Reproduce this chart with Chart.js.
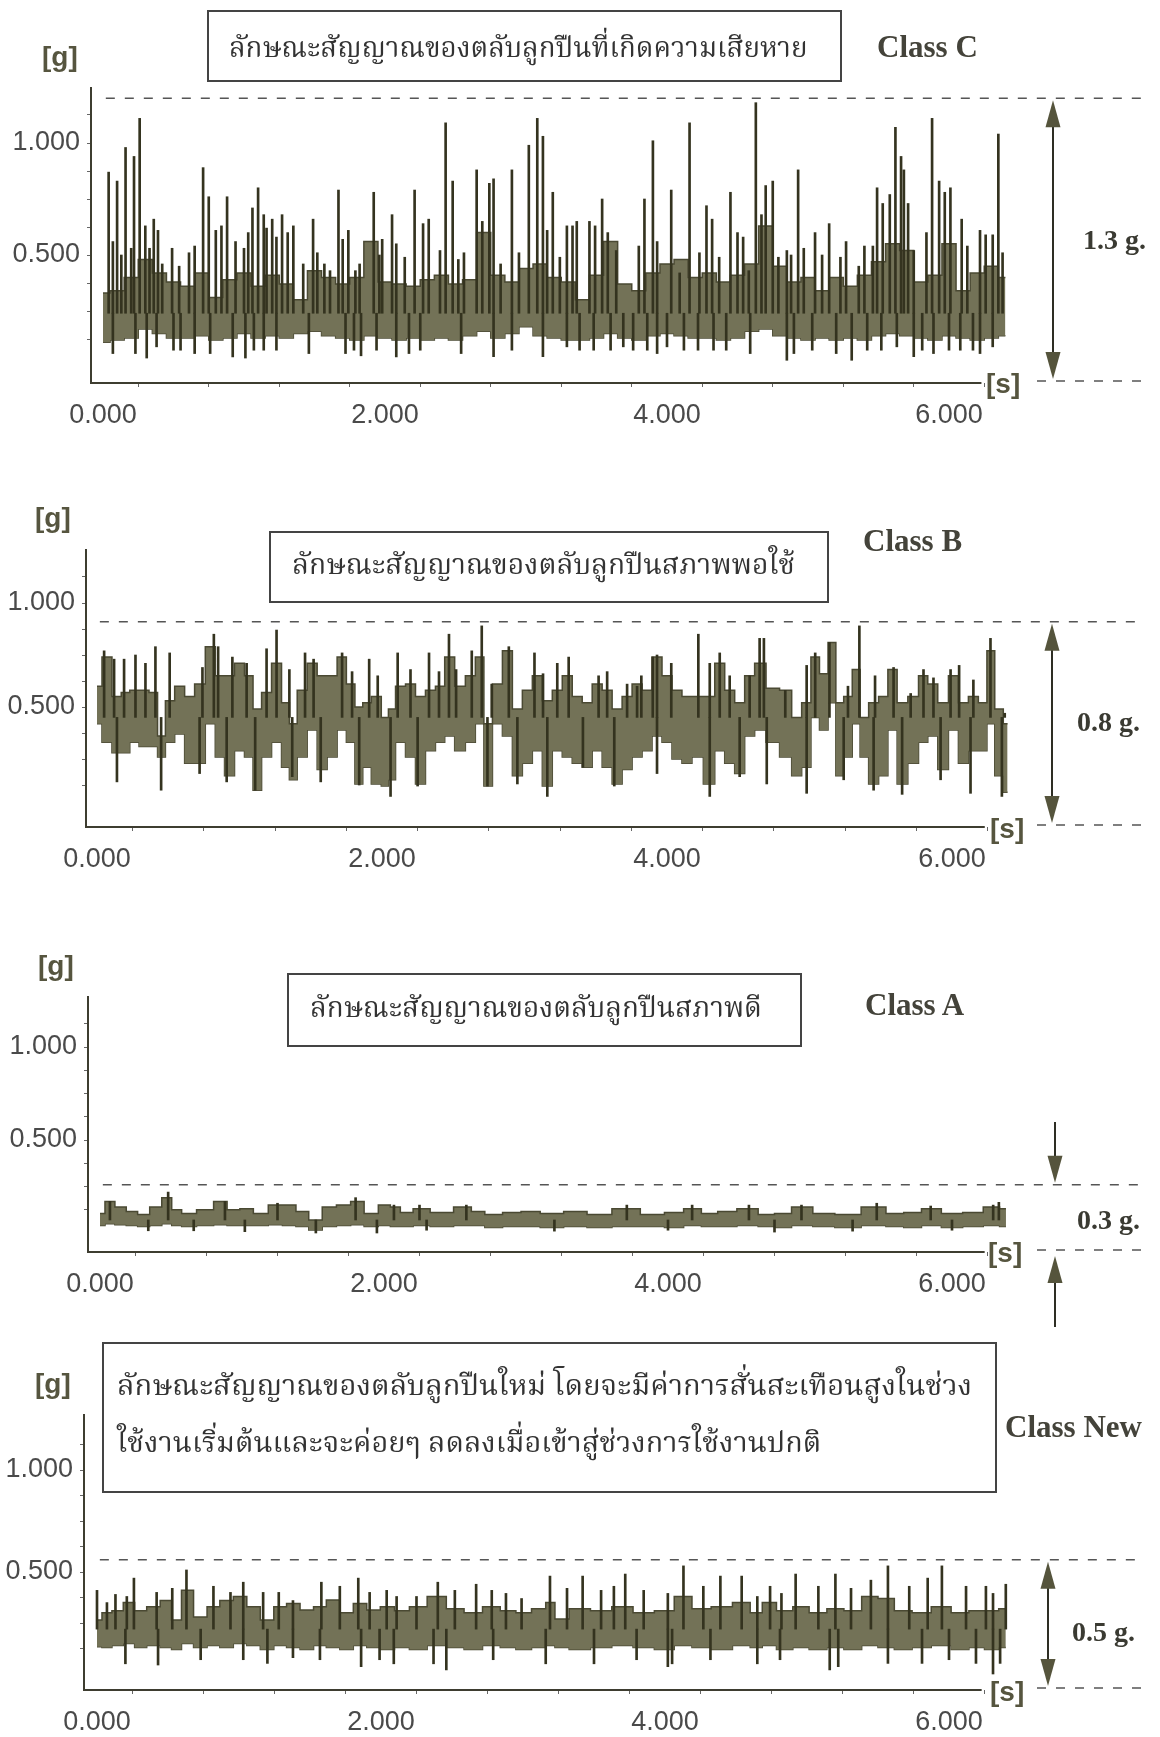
<!DOCTYPE html>
<html>
<head>
<meta charset="utf-8">
<script src="https://cdn.jsdelivr.net/npm/chart.js@4.4.0/dist/chart.umd.min.js"></script>
<style>
  body { margin: 0; background: #fff; }
  #page { position: relative; width: 1160px; height: 1737px; overflow: hidden; background: #fff; }
  canvas { position: absolute; left: 0; }
  .t { position: absolute; white-space: nowrap; line-height: 1; transform: translateY(-50%); }
  .g { font: bold 28px "Liberation Sans", sans-serif; color: #56553f; }
  .cls { font: bold 31px "Liberation Serif", serif; color: #44433a; }
  .amp { font: bold 28px "Liberation Serif", serif; color: #3a3a32; }
  .cap { font-family: "Norasi", "Kinnari", "Laksaman", "Noto Serif Thai", "Noto Sans Thai", "Loma", "Garuda", serif; font-size: 30px; color: #333; line-height: 1.3; }
  .box { position: absolute; box-sizing: border-box; border: 2px solid #444; }
</style>
</head>
<body>
<div id="page">
  <canvas id="c1" width="1160" height="440" style="top:0px"></canvas>
  <canvas id="c2" width="1160" height="450" style="top:440px"></canvas>
  <canvas id="c3" width="1160" height="440" style="top:890px"></canvas>
  <canvas id="c4" width="1160" height="407" style="top:1330px"></canvas>

  <!-- Class C -->
  <div class="t g" style="left:42px;top:57px">[g]</div>
  <div class="box" style="left:207px;top:10px;width:635px;height:72px"></div>
  <div class="t cap fit" data-w="579" style="left:229px;top:50px">ลักษณะสัญญาณของตลับลูกปืนที่เกิดความเสียหาย</div>
  <div class="t cls" style="left:877px;top:47px">Class C</div>
  <div class="t g" style="left:986px;top:384px">[s]</div>
  <div class="t amp" style="left:1083px;top:240px">1.3 g.</div>

  <!-- Class B -->
  <div class="t g" style="left:35px;top:518px">[g]</div>
  <div class="box" style="left:269px;top:531px;width:560px;height:72px"></div>
  <div class="t cap fit" data-w="503" style="left:292px;top:567px">ลักษณะสัญญาณของตลับลูกปืนสภาพพอใช้</div>
  <div class="t cls" style="left:863px;top:541px">Class B</div>
  <div class="t g" style="left:990px;top:829px">[s]</div>
  <div class="t amp" style="left:1077px;top:722px">0.8 g.</div>

  <!-- Class A -->
  <div class="t g" style="left:38px;top:966px">[g]</div>
  <div class="box" style="left:287px;top:973px;width:515px;height:74px"></div>
  <div class="t cap fit" data-w="452" style="left:310px;top:1010px">ลักษณะสัญญาณของตลับลูกปืนสภาพดี</div>
  <div class="t cls" style="left:865px;top:1005px">Class A</div>
  <div class="t g" style="left:988px;top:1253px">[s]</div>
  <div class="t amp" style="left:1077px;top:1220px">0.3 g.</div>

  <!-- Class New -->
  <div class="t g" style="left:35px;top:1384px">[g]</div>
  <div class="box" style="left:102px;top:1342px;width:895px;height:151px"></div>
  <div class="t cap fit" data-w="856" style="left:117px;top:1388px">ลักษณะสัญญาณของตลับลูกปืนใหม่ โดยจะมีค่าการสั่นสะเทือนสูงในช่วง</div>
  <div class="t cap fit" data-w="705" style="left:117px;top:1445px">ใช้งานเริ่มต้นและจะค่อยๆ ลดลงเมื่อเข้าสู่ช่วงการใช้งานปกติ</div>
  <div class="t cls" style="left:1005px;top:1427px">Class New</div>
  <div class="t g" style="left:990px;top:1692px">[s]</div>
  <div class="t amp" style="left:1072px;top:1632px">0.5 g.</div>
</div>

<script>
// ---- axis ticks ----
const xTicks = [0, 0.5, 1, 1.5, 2, 2.5, 3, 3.5, 4, 4.5, 5, 5.5, 6];
const xLabels = [0, 2, 4, 6];
const yTicks = [0.125, 0.25, 0.375, 0.5, 0.625, 0.75, 0.875, 1, 1.125];
const yLabels = [0.5, 1];

// top of the marked range (dashed line), one per panel
const rangeTop = [1.20, 0.91, 0.26, 0.56];

// ---- Class C : damaged bearing ----
const classC_t = [0,0.1,0.2,0.3,0.4,0.5,0.6,0.7,0.8,0.9, 1.0,1.1,1.2,1.3,1.4,1.5,1.6,1.7,1.8,1.9,
  2.0,2.1,2.2,2.3,2.4,2.5,2.6,2.7,2.8,2.9, 3.0,3.1,3.2,3.3,3.4,3.5,3.6,3.7,3.8,3.9,
  4.0,4.1,4.2,4.3,4.4,4.5,4.6,4.7,4.8,4.9, 5.0,5.1,5.2,5.3,5.4,5.5,5.6,5.7,5.8,5.9, 6.0,6.1,6.2,6.3,6.4];
const classC_hi = [0.33,0.34,0.40,0.48,0.42,0.38,0.36,0.42,0.31,0.39, 0.42,0.36,0.41,0.37,0.30,0.43,0.40,0.37,0.40,0.56,
  0.38,0.37,0.36,0.39,0.41,0.37,0.39,0.60,0.41,0.38, 0.44,0.46,0.40,0.38,0.30,0.41,0.56,0.37,0.34,0.42,
  0.46,0.48,0.40,0.42,0.38,0.41,0.46,0.63,0.45,0.38, 0.40,0.34,0.40,0.36,0.41,0.47,0.55,0.52,0.38,0.41, 0.55,0.34,0.42,0.45,0.40];
const classC_lo = [0.11,0.12,0.13,0.17,0.15,0.13,0.13,0.14,0.12,0.13, 0.15,0.13,0.14,0.13,0.15,0.16,0.14,0.13,0.12,0.14,
  0.13,0.12,0.13,0.12,0.13,0.12,0.14,0.16,0.13,0.15, 0.18,0.14,0.13,0.12,0.12,0.13,0.15,0.13,0.12,0.14,
  0.15,0.14,0.13,0.13,0.12,0.13,0.16,0.17,0.14,0.13, 0.12,0.13,0.12,0.13,0.12,0.14,0.15,0.14,0.13,0.12, 0.14,0.13,0.12,0.13,0.14];
const classC_peakT = [0.04,0.07,0.10,0.13,0.16,0.20,0.22,0.26,0.30,0.33,0.36,0.39,0.42,0.49,0.54,0.61,0.65,0.71,0.75,0.80,
  0.84,0.88,0.94,1.00,1.03,1.06,1.10,1.14,1.16,1.20,1.23,1.27,1.31,1.35,1.42,1.49,1.52,1.57,1.61,1.67,
  1.70,1.74,1.79,1.82,1.92,1.96,1.98,2.05,2.08,2.14,2.21,2.27,2.31,2.39,2.43,2.48,2.52,2.56,2.65,2.69,
  2.74,2.77,2.82,2.90,2.95,3.02,3.08,3.12,3.15,3.19,3.24,3.29,3.33,3.36,3.45,3.49,3.54,3.58,3.64,3.80,
  3.84,3.90,3.93,4.03,4.09,4.16,4.23,4.28,4.32,4.37,4.45,4.50,4.54,4.58,4.63,4.67,4.70,4.75,4.79,4.85,
  4.88,4.93,4.97,5.05,5.10,5.15,5.23,5.27,5.36,5.40,5.46,5.49,5.53,5.58,5.62,5.66,5.68,5.71,5.75,5.84,
  5.88,5.93,5.97,6.01,6.09,6.13,6.22,6.26,6.31,6.35,6.38];
const classC_peakV = [0.87,0.56,0.83,0.50,0.98,0.53,0.94,1.11,0.63,0.53,0.66,0.61,0.46,0.53,0.45,0.51,0.54,0.89,0.76,0.61,
  0.63,0.76,0.56,0.53,0.60,0.71,0.80,0.68,0.62,0.66,0.58,0.68,0.60,0.63,0.46,0.66,0.51,0.46,0.43,0.79,
  0.57,0.61,0.43,0.46,0.78,0.50,0.57,0.68,0.55,0.49,0.79,0.64,0.66,0.52,1.09,0.83,0.48,0.51,0.88,0.65,
  0.82,0.84,0.46,0.88,0.51,0.99,1.11,1.03,0.61,0.78,0.49,0.63,0.63,0.65,0.65,0.63,0.75,0.60,0.52,0.54,
  0.75,1.01,0.56,0.79,0.42,1.09,0.51,0.72,0.66,0.49,0.78,0.60,0.58,0.43,1.18,0.68,0.81,0.83,0.49,0.52,
  0.50,0.88,0.53,0.60,0.50,0.64,0.49,0.56,0.45,0.54,0.54,0.80,0.73,0.77,1.07,0.94,0.88,0.73,0.52,0.60,
  1.11,0.83,0.78,0.80,0.66,0.54,0.61,0.59,0.59,1.04,0.51];
const classC_dipT = [0.07,0.23,0.31,0.38,0.50,0.55,0.65,0.76,0.92,1.01,1.07,1.14,1.23,1.46,1.72,1.78,1.83,1.94,2.08,2.17,
  2.25,2.54,2.77,2.90,3.12,3.29,3.38,3.48,3.60,3.69,3.76,3.86,3.93,4.00,4.12,4.22,4.33,4.42,4.59,4.85,
  4.90,5.03,5.20,5.31,5.42,5.52,5.63,5.75,5.81,5.89,6.00,6.08,6.17,6.22,6.31];
const classC_dipV = [0.06,0.06,0.04,0.09,0.075,0.075,0.06,0.06,0.045,0.04,0.075,0.075,0.075,0.06,0.06,0.075,0.05,0.075,0.045,0.06,
  0.075,0.06,0.046,0.075,0.046,0.09,0.075,0.075,0.075,0.09,0.075,0.075,0.06,0.09,0.075,0.075,0.075,0.075,0.06,0.03,
  0.06,0.075,0.06,0.03,0.075,0.075,0.09,0.046,0.075,0.06,0.075,0.075,0.075,0.06,0.09];

// ---- Class B : fair condition ----
const classB_t = [0,0.07,0.14,0.20,0.26,0.33,0.40,0.45,0.51,0.58, 0.65,0.72,0.80,0.86,0.93,1.00,1.07,1.12,1.19,1.26,
  1.33,1.37,1.44,1.51,1.58,1.65,1.72,1.78,1.84,1.89, 1.96,2.03,2.06,2.13,2.20,2.27,2.34,2.41,2.47,2.55,
  2.62,2.69,2.74,2.81,2.88,2.95,3.02,3.09,3.16,3.23, 3.30,3.37,3.44,3.51,3.58,3.65,3.72,3.79,3.86,3.93,
  4.00,4.07,4.14,4.21,4.30,4.37,4.44,4.51,4.58,4.65, 4.74,4.84,4.91,4.98,5.04,5.10,5.16,5.21,5.27,5.33,
  5.38,5.45,5.52,5.58,5.65,5.73,5.80,5.86,5.94,6.01, 6.08,6.15,6.22,6.27,6.33,6.39];
const classB_hi = [0.60,0.74,0.55,0.57,0.58,0.58,0.57,0.36,0.53,0.60, 0.55,0.61,0.79,0.65,0.65,0.71,0.65,0.49,0.57,0.71,
  0.52,0.42,0.58,0.71,0.65,0.65,0.74,0.61,0.50,0.52, 0.55,0.45,0.49,0.60,0.61,0.55,0.58,0.60,0.74,0.60,
  0.65,0.74,0.42,0.61,0.77,0.49,0.58,0.65,0.53,0.58, 0.65,0.55,0.52,0.61,0.58,0.49,0.55,0.61,0.58,0.74,
  0.65,0.58,0.55,0.55,0.55,0.71,0.58,0.52,0.65,0.71, 0.59,0.58,0.45,0.52,0.74,0.66,0.81,0.52,0.55,0.68,
  0.45,0.52,0.55,0.68,0.52,0.55,0.65,0.61,0.52,0.65, 0.52,0.55,0.52,0.77,0.49,0.42];
const classB_lo = [0.42,0.33,0.28,0.28,0.33,0.31,0.31,0.26,0.33,0.37, 0.23,0.23,0.42,0.26,0.17,0.29,0.26,0.10,0.26,0.33,
  0.21,0.15,0.26,0.39,0.20,0.26,0.39,0.33,0.13,0.21, 0.13,0.12,0.15,0.33,0.26,0.13,0.29,0.33,0.36,0.29,
  0.33,0.42,0.12,0.42,0.36,0.17,0.23,0.29,0.12,0.29, 0.26,0.23,0.21,0.29,0.21,0.13,0.20,0.26,0.29,0.36,
  0.33,0.25,0.23,0.26,0.13,0.29,0.23,0.18,0.36,0.39, 0.33,0.26,0.17,0.21,0.45,0.39,0.52,0.17,0.26,0.42,
  0.26,0.13,0.17,0.39,0.13,0.23,0.33,0.36,0.20,0.39, 0.23,0.29,0.29,0.42,0.17,0.09];
const classB_peakT = [0.05,0.12,0.19,0.27,0.34,0.41,0.51,0.74,0.82,0.85,0.95,1.05,1.19,1.26,1.35,1.46,1.52,1.72,1.79,1.91,
  1.97,2.11,2.20,2.33,2.40,2.47,2.52,2.63,2.70,2.77,2.89,3.07,3.13,3.23,3.31,3.52,3.58,3.72,3.79,3.82,
  3.90,3.93,4.03,4.22,4.30,4.37,4.44,4.58,4.65,4.68,4.83,4.98,5.04,5.14,5.27,5.35,5.46,5.59,5.71,5.80,
  5.87,5.99,6.05,6.15,6.27,6.37];
const classB_peakV = [0.77,0.73,0.73,0.75,0.71,0.79,0.76,0.69,0.85,0.79,0.74,0.71,0.78,0.87,0.68,0.76,0.73,0.76,0.67,0.73,
  0.65,0.76,0.68,0.76,0.67,0.85,0.68,0.77,0.89,0.61,0.79,0.76,0.66,0.71,0.74,0.65,0.67,0.61,0.60,0.65,
  0.74,0.75,0.71,0.85,0.71,0.76,0.65,0.65,0.83,0.83,0.58,0.70,0.76,0.81,0.60,0.89,0.65,0.69,0.565,0.68,
  0.64,0.68,0.70,0.63,0.83,0.47];
const classB_dipT = [0.14,0.45,0.72,0.91,1.11,1.37,1.57,1.84,2.06,2.25,2.74,2.95,3.16,3.41,3.63,3.93,4.30,4.51,4.70,4.98,
  5.24,5.45,5.65,5.92,6.13,6.35];
const classB_dipV = [0.14,0.10,0.18,0.14,0.10,0.165,0.14,0.125,0.07,0.12,0.12,0.13,0.07,0.21,0.12,0.18,0.07,0.165,0.13,0.085,
  0.15,0.10,0.08,0.15,0.085,0.07];

// ---- Class A : good condition ----
const classA_t = [0,0.07,0.14,0.23,0.30,0.40,0.47,0.54,0.61,0.75, 0.85,0.94,1.03,1.13,1.24,1.33,1.43,1.51,1.62,1.71,
  1.82,1.90,2.02,2.07,2.16,2.25,2.40,2.58,2.65,2.77, 2.90,3.03,3.17,3.36,3.50,3.71,3.90,4.05,4.17,4.30,
  4.40,4.57,4.70,4.80,4.94,5.10,5.25,5.47,5.60,5.72, 5.85,6.00,6.15,6.29,6.38];
const classA_hi = [0.105,0.17,0.14,0.115,0.10,0.14,0.19,0.125,0.105,0.125, 0.17,0.125,0.13,0.105,0.15,0.15,0.115,0.07,0.14,0.15,
  0.17,0.105,0.15,0.14,0.11,0.13,0.11,0.14,0.115,0.10, 0.11,0.115,0.105,0.115,0.10,0.13,0.10,0.11,0.13,0.105,
  0.115,0.13,0.10,0.105,0.14,0.105,0.10,0.14,0.105,0.11, 0.13,0.105,0.11,0.14,0.13];
const classA_lo = [0.04,0.05,0.045,0.04,0.035,0.04,0.05,0.04,0.035,0.04, 0.045,0.04,0.04,0.04,0.045,0.04,0.035,0.016,0.035,0.04,
  0.045,0.035,0.04,0.035,0.035,0.04,0.035,0.04,0.04,0.03, 0.035,0.035,0.03,0.035,0.03,0.035,0.035,0.03,0.04,0.035,
  0.035,0.04,0.035,0.03,0.04,0.035,0.03,0.04,0.035,0.03, 0.04,0.03,0.035,0.04,0.035];
const classA_peakT = [0.07,0.48,0.88,1.25,1.80,2.07,2.25,2.58,3.71,4.17,4.57,4.94,5.47,5.85,6.29,6.33];
const classA_peakV = [0.17,0.22,0.17,0.16,0.19,0.15,0.15,0.15,0.15,0.15,0.15,0.15,0.16,0.145,0.15,0.165];
const classA_dipT = [0.34,0.66,1.02,1.52,1.95,2.30,3.20,4.00,4.75,5.30,6.00];
const classA_dipV = [0.012,0.012,0.007,0.0,0.0,0.015,0.01,0.015,0.005,0.01,0.015];

// ---- Class New : new bearing ----
const classNew_t = [0,0.07,0.14,0.23,0.30,0.40,0.49,0.56,0.63,0.73, 0.82,0.91,1.01,1.10,1.20,1.29,1.38,1.48,1.57,1.66,
  1.76,1.85,1.95,2.04,2.15,2.25,2.40,2.52,2.65,2.78, 2.90,3.00,3.12,3.20,3.25,3.40,3.55,3.70,3.85,4.00,
  4.13,4.25,4.40,4.55,4.65,4.72,4.85,4.95,5.08,5.20, 5.32,5.45,5.55,5.68,5.80,5.95,6.08,6.20,6.30,6.40];
const classNew_hi = [0.265,0.30,0.31,0.35,0.31,0.33,0.36,0.265,0.41,0.28, 0.33,0.36,0.38,0.33,0.265,0.33,0.346,0.314,0.33,0.363,
  0.30,0.346,0.314,0.33,0.31,0.33,0.38,0.32,0.30,0.33, 0.31,0.30,0.32,0.35,0.27,0.32,0.31,0.33,0.30,0.31,
  0.38,0.32,0.33,0.35,0.30,0.35,0.31,0.33,0.30,0.32, 0.31,0.38,0.37,0.31,0.30,0.33,0.30,0.31,0.31,0.32];
const classNew_lo = [0.134,0.13,0.14,0.15,0.13,0.14,0.13,0.12,0.15,0.13, 0.14,0.13,0.15,0.14,0.12,0.14,0.13,0.12,0.14,0.13,
  0.12,0.14,0.13,0.12,0.13,0.12,0.14,0.13,0.12,0.14, 0.13,0.12,0.13,0.14,0.13,0.12,0.13,0.14,0.13,0.12,
  0.14,0.13,0.12,0.14,0.13,0.14,0.12,0.13,0.12,0.13, 0.12,0.14,0.13,0.12,0.13,0.14,0.12,0.13,0.12,0.13];
const classNew_peakT = [0.0,0.07,0.13,0.21,0.26,0.42,0.53,0.63,0.82,0.94,1.03,1.17,1.28,1.38,1.58,1.71,1.84,1.92,2.04,2.11,
  2.25,2.40,2.52,2.67,2.78,2.88,2.99,3.19,3.31,3.42,3.55,3.64,3.72,3.85,4.02,4.13,4.27,4.39,4.54,4.65,
  4.74,4.82,4.92,5.08,5.20,5.31,5.45,5.57,5.72,5.85,5.95,6.12,6.26,6.31,6.40];
const classNew_peakV = [0.41,0.35,0.39,0.38,0.47,0.40,0.42,0.51,0.43,0.40,0.45,0.40,0.40,0.36,0.45,0.43,0.47,0.40,0.41,0.38,
  0.38,0.45,0.41,0.44,0.41,0.395,0.37,0.48,0.42,0.48,0.41,0.43,0.49,0.41,0.395,0.53,0.43,0.48,0.48,0.38,
  0.43,0.395,0.49,0.43,0.49,0.42,0.46,0.53,0.43,0.47,0.53,0.43,0.43,0.395,0.44];
const classNew_dipT = [0.20,0.43,0.73,1.03,1.20,1.38,1.57,1.86,1.99,2.09,2.37,2.46,2.79,3.16,3.50,3.80,4.02,4.05,4.32,4.65,
  4.81,5.16,5.22,5.57,5.81,6.00,6.19,6.31,6.36];
const classNew_dipV = [0.05,0.044,0.07,0.07,0.052,0.08,0.07,0.036,0.07,0.05,0.05,0.02,0.07,0.05,0.05,0.07,0.036,0.05,0.07,0.05,
  0.07,0.02,0.036,0.052,0.052,0.07,0.052,0.0,0.052];

// page geometry of each panel (pixels)
const plotRight = 1010;
const panels = [
  { id: 'c1', top: 0,    axisX: 91, t0: 103, pxs: 141,   yTop: 88,   yBot: 383,  y0: 367,  pxg: 224, arrowX: 1053, arrow: 'both' },
  { id: 'c2', top: 440,  axisX: 86, t0: 97,  pxs: 142.5, yTop: 550,  yBot: 827,  y0: 811,  pxg: 208, arrowX: 1052, arrow: 'both' },
  { id: 'c3', top: 890,  axisX: 88, t0: 100, pxs: 142,   yTop: 997,  yBot: 1252, y0: 1233, pxg: 186, arrowX: 1055, arrow: 'in', outTop: 1122, outBot: 1327 },
  { id: 'c4', top: 1330, axisX: 84, t0: 97,  pxs: 142,   yTop: 1415, yBot: 1690, y0: 1674, pxg: 204, arrowX: 1048, arrow: 'both' }
];
const series = [
  { t: classC_t, hi: classC_hi, lo: classC_lo, pT: classC_peakT, pV: classC_peakV, dT: classC_dipT, dV: classC_dipV, base: 0.24 },
  { t: classB_t, hi: classB_hi, lo: classB_lo, pT: classB_peakT, pV: classB_peakV, dT: classB_dipT, dV: classB_dipV, base: 0.45 },
  { t: classA_t, hi: classA_hi, lo: classA_lo, pT: classA_peakT, pV: classA_peakV, dT: classA_dipT, dV: classA_dipV, base: 0.07 },
  { t: classNew_t, hi: classNew_hi, lo: classNew_lo, pT: classNew_peakT, pV: classNew_peakV, dT: classNew_dipT, dV: classNew_dipV, base: 0.22 }
];

const ink = '#3e3d30';
const olive = '#737257';

function arrowHead(ctx, x, tipY, dir) {
  // dir = 1 -> pointing up (body below tip), -1 -> pointing down
  ctx.beginPath();
  ctx.moveTo(x, tipY);
  ctx.lineTo(x - 7.5, tipY + dir * 27);
  ctx.lineTo(x + 7.5, tipY + dir * 27);
  ctx.closePath();
  ctx.fill();
}

const guides = {
  id: 'guides',
  afterDraw(chart, args, o) {
    const ctx = chart.ctx, area = chart.chartArea;
    const x = chart.scales.x, y = chart.scales.y;
    const p = o.panel;
    const yTop = y.getPixelForValue(o.top);
    const yBot = area.bottom;
    ctx.save();
    // x axis line, ends before [s]
    ctx.strokeStyle = ink; ctx.lineWidth = 2;
    ctx.beginPath(); ctx.moveTo(area.left, yBot); ctx.lineTo(x.getPixelForValue(6.23), yBot); ctx.stroke();
    // dashed range lines
    ctx.strokeStyle = '#555'; ctx.lineWidth = 1.5; ctx.setLineDash([9, 10]);
    ctx.beginPath(); ctx.moveTo(x.getPixelForValue(0.02), yTop); ctx.lineTo(1143, yTop); ctx.stroke();
    ctx.beginPath(); ctx.moveTo(1037, yBot - 2); ctx.lineTo(1143, yBot - 2); ctx.stroke();
    ctx.setLineDash([]);
    // arrows
    ctx.strokeStyle = '#2e2e24'; ctx.fillStyle = '#55543c'; ctx.lineWidth = 2;
    const ax = p.arrowX;
    if (p.arrow === 'both') {
      ctx.beginPath(); ctx.moveTo(ax, yTop + 10); ctx.lineTo(ax, yBot - 10); ctx.stroke();
      arrowHead(ctx, ax, yTop + 2, 1);
      arrowHead(ctx, ax, yBot - 4, -1);
    } else {
      const o1 = p.outTop - p.top, o2 = p.outBot - p.top;
      ctx.beginPath(); ctx.moveTo(ax, o1); ctx.lineTo(ax, yTop - 10); ctx.stroke();
      arrowHead(ctx, ax, yTop - 2, -1);
      ctx.beginPath(); ctx.moveTo(ax, o2); ctx.lineTo(ax, yBot + 12); ctx.stroke();
      arrowHead(ctx, ax, yBot + 4, 1);
    }
    ctx.restore();
  }
};

function buildChart(p, s, top) {
  const canvas = document.getElementById(p.id);
  const H = canvas.height;
  const pts = arr => s.t.map((t, i) => ({ x: t, y: arr[i] }));
  const marks = s.pT.map((t, i) => ({ x: t, y: [s.base, s.pV[i]] }))
    .concat(s.dT.map((t, i) => ({ x: t, y: [s.dV[i], s.base] })));
  const tickFont = { family: 'Liberation Sans', size: 27 };

  new Chart(canvas, {
    type: 'line',
    data: {
      datasets: [
        { data: pts(s.hi), fill: '+1', backgroundColor: olive, borderColor: '#4a4933', borderWidth: 1.5,
          stepped: 'middle', pointRadius: 0, order: 2 },
        { data: pts(s.lo), fill: false, borderColor: '#4a4933', borderWidth: 1.5,
          stepped: 'middle', pointRadius: 0, order: 2 },
        { type: 'bar', data: marks, backgroundColor: '#34331f', barThickness: 2, order: 1 }
      ]
    },
    options: {
      responsive: false,
      animation: false,
      events: [],
      layout: { padding: { top: p.yTop - p.top, right: 1160 - plotRight, left: 0, bottom: 0 } },
      plugins: { legend: { display: false }, tooltip: { enabled: false }, guides: { panel: p, top: top } },
      scales: {
        x: {
          type: 'linear', offset: false,
          min: (p.axisX - p.t0) / p.pxs, max: (plotRight - p.t0) / p.pxs,
          afterBuildTicks: a => { a.ticks = xTicks.map(v => ({ value: v })); },
          afterFit: a => { a.height = H - (p.yBot - p.top); },
          border: { display: false },
          grid: { drawOnChartArea: false, drawTicks: true, tickLength: 4, color: '#666' },
          ticks: { autoSkip: false, maxRotation: 0, padding: 12, color: '#4a4a4a', font: tickFont,
            callback: v => xLabels.includes(v) ? v.toFixed(3) : '' }
        },
        y: {
          min: (p.y0 - p.yBot) / p.pxg, max: (p.y0 - p.yTop) / p.pxg,
          afterBuildTicks: a => { a.ticks = yTicks.map(v => ({ value: v })); },
          afterFit: a => { a.width = p.axisX; },
          border: { display: true, color: ink, width: 2 },
          grid: { drawOnChartArea: false, drawTicks: true, tickLength: 4, color: '#666' },
          ticks: { autoSkip: false, padding: 7, color: '#4a4a4a', font: tickFont,
            callback: v => yLabels.includes(v) ? v.toFixed(3) : '' }
        }
      }
    },
    plugins: [guides]
  });
}

panels.forEach((p, i) => buildChart(p, series[i], rangeTop[i]));

// fit the Thai captions to the width they take in the original
document.querySelectorAll('.fit').forEach(el => {
  const w = +el.dataset.w;
  el.style.fontSize = (30 * w / el.offsetWidth) + 'px';
});
</script>
</body>
</html>
